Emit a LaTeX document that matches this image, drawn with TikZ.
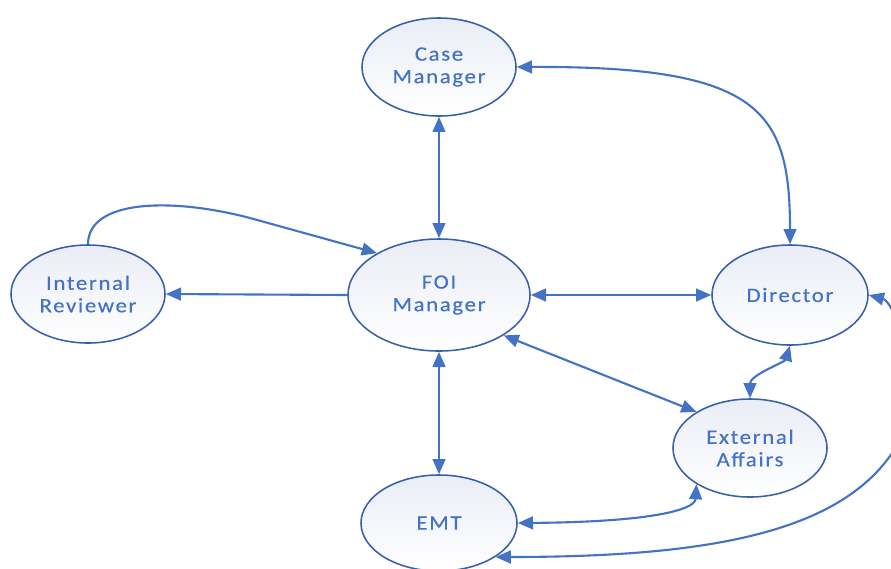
\documentclass[tikz,border=0pt]{standalone}
\usepackage{fontspec}
\setmainfont{Carlito}[LetterSpace=8,FakeStretch=1.12,FakeBold=0.4]
\usetikzlibrary{arrows.meta,shapes.geometric}
\definecolor{linkblue}{RGB}{68,114,196}
\definecolor{rimblue}{RGB}{55,95,170}
\definecolor{shadeblue}{RGB}{234,237,246}

\begin{document}
\begin{tikzpicture}[
    x=0.025cm, y=-0.025cm,
    role/.style={ellipse, draw=rimblue, line width=1.1pt,
                 top color=shadeblue, bottom color=white,
                 minimum width=3.85cm, minimum height=2.45cm, inner sep=0pt,
                 align=center, text=linkblue, font=\fontsize{14.5}{16}\selectfont},
    arr/.style={-{Triangle[length=3.8mm, width=3.2mm]}, line width=1.5pt, draw=linkblue},
    darr/.style={{Triangle[length=3.8mm, width=3.2mm]}-{Triangle[length=3.8mm, width=3.2mm]},
                 line width=1.5pt, draw=linkblue}
]
\useasboundingbox (0,0) rectangle (891,568);
\clip (0,0) rectangle (891,568);
% Roles
\node[role] (case) at (439,67) {Case\\Manager};
\node[role, minimum width=4.55cm, minimum height=2.8cm] (foi) at (439,295) {FOI\\Manager};
\node[role] (ir) at (88,294) {Internal\\Reviewer};
\node[role, minimum width=3.9cm, minimum height=2.5cm] (dir) at (790,295) {Director};
\node[role] (ext) at (750,448) {External\\Affairs};
\node[role, minimum width=3.9cm, minimum height=2.4cm] (emt) at (439,523) {EMT};
% Arrows
\draw[darr] (case) -- (foi);
\draw[darr] (case.east) .. controls (760,66) and (790,110) .. (dir.north);
\draw[arr] (ir.north) .. controls (88,200) and (170,197) .. (250,218) -- (foi.146);
\draw[arr] (foi.west) -- (ir.east);
\draw[darr] (foi.east) -- (dir.west);
\draw[darr] (foi.-32) -- (ext.146);
\draw[darr] (foi) -- (emt);
\draw[darr] (dir.south) .. controls (785,362) and (750,375) .. (ext.north);
\draw[darr] (emt.east) .. controls (650,522) and (695,510) .. (ext.214);
\draw[darr] (emt.-31) .. controls (720,557) and (860,530) .. (905,430)
            .. controls (925,385) and (895,302) .. (dir.east);
\end{tikzpicture}
\end{document}
